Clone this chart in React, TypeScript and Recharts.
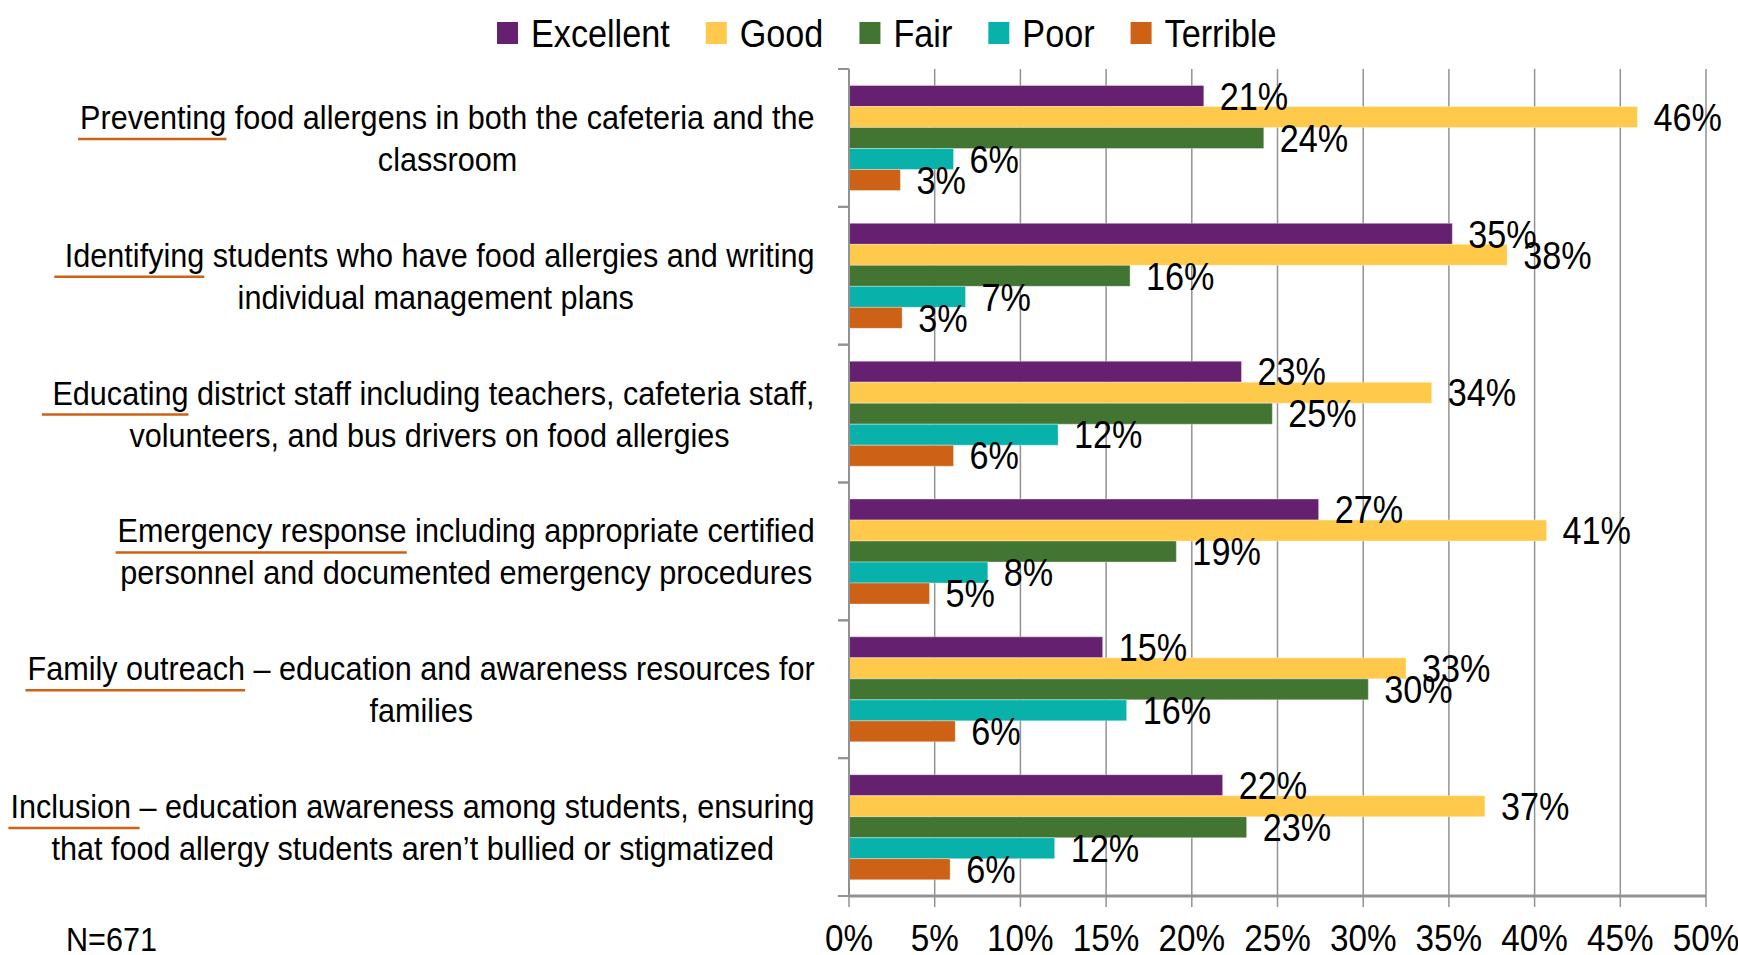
import React from 'react';
import { BarChart, Bar, XAxis, YAxis, CartesianGrid, LabelList } from 'recharts';

// no narrow font is installed, so Arial-metric Liberation Sans is squeezed horizontally
const FONT = "'Liberation Sans', Arial, sans-serif";
const SQUEEZE = 0.9;

// category labels: first line, second line, and the leading words that are underlined
const categories = ['Preventing', 'Identifying', 'Educating', 'Emergency', 'Family', 'Inclusion'];
const labelLine1 = [
  'Preventing food allergens in both the cafeteria and the',
  ' Identifying students who have food allergies and writing',
  ' Educating district staff including teachers, cafeteria staff,',
  'Emergency response including appropriate certified',
  'Family outreach – education and awareness resources for',
  'Inclusion – education awareness among students, ensuring',
];
const labelLine2 = [
  'classroom',
  'individual management plans',
  'volunteers, and bus drivers on food allergies',
  'personnel and documented emergency procedures',
  'families',
  'that food allergy students aren’t bullied or stigmatized',
];
const underlined = [
  'Preventing',
  ' Identifying',
  ' Educating',
  'Emergency response',
  'Family outreach',
  'Inclusion ',
];

const excellent = [20.7, 35.2, 22.9, 27.4, 14.8, 21.8];
const good = [46.0, 38.4, 34.0, 40.7, 32.5, 37.1];
const fair = [24.2, 16.4, 24.7, 19.1, 30.3, 23.2];
const poor = [6.1, 6.8, 12.2, 8.1, 16.2, 12.0];
const terrible = [3.0, 3.1, 6.1, 4.7, 6.2, 5.9];

const xTicks = [0, 5, 10, 15, 20, 25, 30, 35, 40, 45, 50];

const series = [
  { key: 'excellent', name: 'Excellent', color: '#652070' },
  { key: 'good', name: 'Good', color: '#FFC94C' },
  { key: 'fair', name: 'Fair', color: '#437532' },
  { key: 'poor', name: 'Poor', color: '#08B2AB' },
  { key: 'terrible', name: 'Terrible', color: '#CD6115' },
];

const data = categories.map((c, i) => ({
  category: c,
  excellent: excellent[i],
  good: good[i],
  fair: fair[i],
  poor: poor[i],
  terrible: terrible[i],
}));

const WIDTH = 1738;
const HEIGHT = 955;
const PLOT_TOP = 69;
const PLOT_BOTTOM = 896;
const Y_AXIS_WIDTH = 849;
const LABEL_RIGHT = 815;
const LABEL_SIZE = 34;
const VALUE_SIZE = 38;
const TICK_SIZE = 37;
const LEGEND_SIZE = 38;
const GRID = '#929292';

let ctx: CanvasRenderingContext2D | null = null;
function textWidth(s: string, size: number) {
  if (!ctx) ctx = document.createElement('canvas').getContext('2d');
  if (!ctx) return s.length * size * 0.5 * SQUEEZE;
  ctx.font = `${size}px ${FONT}`;
  return ctx.measureText(s).width * SQUEEZE;
}

const NarrowText = ({ x, y, size, anchor = 'start', dy, children }: any) => (
  <text
    transform={`translate(${x},${y}) scale(${SQUEEZE},1)`}
    fontSize={size}
    fontFamily={FONT}
    fill="#000"
    textAnchor={anchor}
    dy={dy}
    style={{ whiteSpace: 'pre' }}
  >
    {children}
  </text>
);

const CategoryTick = (props: any) => {
  const { y, payload } = props;
  const i = payload.index ?? categories.indexOf(payload.value);
  const band = (PLOT_BOTTOM - PLOT_TOP) / categories.length;
  const w1 = textWidth(labelLine1[i], LABEL_SIZE);
  const start = LABEL_RIGHT - w1;
  const center = LABEL_RIGHT - w1 / 2;
  const uw = textWidth(underlined[i], LABEL_SIZE);
  const b1 = y - 9;
  const b2 = y + 33;
  return (
    <g>
      <line x1={Y_AXIS_WIDTH - 11} x2={Y_AXIS_WIDTH} y1={y - band / 2} y2={y - band / 2} stroke={GRID} strokeWidth={2} />
      <line x1={Y_AXIS_WIDTH - 11} x2={Y_AXIS_WIDTH} y1={y + band / 2} y2={y + band / 2} stroke={GRID} strokeWidth={2} />
      <NarrowText x={start} y={b1} size={LABEL_SIZE}>{labelLine1[i]}</NarrowText>
      <line x1={start - 2} x2={start + uw} y1={b1 + 10} y2={b1 + 10} stroke="#CD6115" strokeWidth={2.5} />
      <NarrowText x={center} y={b2} size={LABEL_SIZE} anchor="middle">{labelLine2[i]}</NarrowText>
    </g>
  );
};

const PercentTick = (props: any) => {
  const { x, payload } = props;
  return <NarrowText x={x} y={951} size={TICK_SIZE} anchor="middle">{`${payload.value}%`}</NarrowText>;
};

const ValueLabel = (props: any) => {
  const { x, y, width, height, value } = props;
  return (
    <NarrowText x={Number(x) + Number(width) + 16} y={Number(y) + Number(height) / 2} size={VALUE_SIZE} dy="0.36em">
      {`${Math.round(Number(value))}%`}
    </NarrowText>
  );
};

function Overlay() {
  let cursor = 497;
  const items = series.map((s) => {
    const x = cursor;
    const tw = textWidth(s.name, LEGEND_SIZE);
    cursor += 21 + 13 + tw + 36;
    return (
      <g key={s.key}>
        <rect x={x} y={22} width={21} height={22} fill={s.color} />
        <NarrowText x={x + 34} y={47} size={LEGEND_SIZE}>{s.name}</NarrowText>
      </g>
    );
  });
  return (
    <svg width={WIDTH} height={HEIGHT} style={{ position: 'absolute', left: 0, top: 0, pointerEvents: 'none' }}>
      {items}
      <NarrowText x={66} y={951} size={LABEL_SIZE}>N=671</NarrowText>
    </svg>
  );
}

export default function App() {
  return (
    <div style={{ position: 'absolute', left: 0, top: 0, width: WIDTH, height: HEIGHT, background: '#fff' }}>
      <BarChart
        width={WIDTH}
        height={HEIGHT}
        data={data}
        layout="vertical"
        margin={{ top: PLOT_TOP, right: 32, bottom: 0, left: 0 }}
        barCategoryGap="12%"
        barGap={0}
      >
        <CartesianGrid horizontal={false} stroke={GRID} strokeWidth={1.5} />
        <XAxis
          type="number"
          domain={[0, 50]}
          ticks={xTicks}
          height={HEIGHT - PLOT_BOTTOM}
          tickSize={11}
          axisLine={{ stroke: GRID, strokeWidth: 3 }}
          tickLine={{ stroke: GRID, strokeWidth: 1.5 }}
          tick={<PercentTick />}
          interval={0}
        />
        <YAxis
          type="category"
          dataKey="category"
          width={Y_AXIS_WIDTH}
          axisLine={{ stroke: GRID, strokeWidth: 2 }}
          tickLine={false}
          tick={<CategoryTick />}
          interval={0}
        />
        {series.map((s) => (
          <Bar key={s.key} dataKey={s.key} name={s.name} fill={s.color} stroke="#ffffff" strokeOpacity={0.35} strokeWidth={1} isAnimationActive={false}>
            <LabelList dataKey={s.key} content={<ValueLabel />} />
          </Bar>
        ))}
      </BarChart>
      <Overlay />
    </div>
  );
}
